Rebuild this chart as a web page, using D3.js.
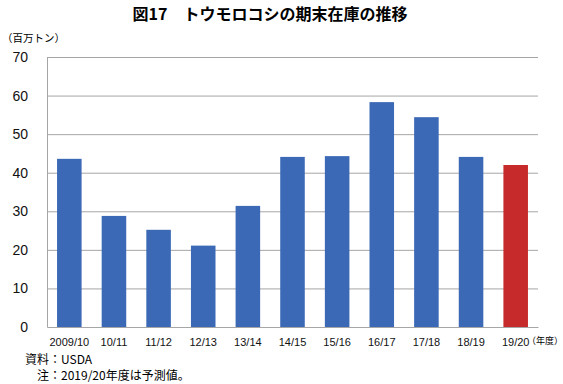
<!DOCTYPE html>
<html>
<head>
<meta charset="utf-8">
<script src="https://cdn.jsdelivr.net/npm/d3@7"></script>
<style>
body { margin: 0; background: #fff; }
text { font-family: "Noto Sans CJK JP", "Noto Sans", sans-serif; }
</style>
</head>
<body>
<div id="chart"></div>
<script>
// data
const years = ["2009/10","10/11","11/12","12/13","13/14","14/15","15/16","16/17","17/18","18/19","19/20"];
const stocks = [43.6, 28.8, 25.2, 21.1, 31.4, 44.1, 44.3, 58.3, 54.4, 44.1, 42.0];
const forecast = ["19/20"];
const yTicks = [0,10,20,30,40,50,60,70];

const W = 563, H = 384;
const margin = { top: 57, right: 25, bottom: 57, left: 47 };
const width = W - margin.left - margin.right;
const height = H - margin.top - margin.bottom;

const svg = d3.select("#chart").append("svg")
  .attr("width", W).attr("height", H);

// title
svg.append("text")
  .attr("x", 270).attr("y", 20)
  .attr("text-anchor", "middle")
  .style("font-size", "16px").style("font-weight", "bold")
  .text("図17　トウモロコシの期末在庫の推移");

svg.append("text")
  .attr("x", 2).attr("y", 42)
  .style("font-size", "10.5px")
  .text("（百万トン）");

const g = svg.append("g")
  .attr("transform", "translate(" + margin.left + "," + margin.top + ")");

const x = d3.scaleBand().domain(years).range([0, width])
  .paddingInner(0.45).paddingOuter(0.225);
const y = d3.scaleLinear().domain([0, 70]).range([height, 0]);

// gridlines
g.selectAll(".grid")
  .data(yTicks.filter(d => d > 0))
  .enter().append("line")
  .attr("x1", 0).attr("x2", width)
  .attr("y1", d => y(d) + 0.5).attr("y2", d => y(d) + 0.5)
  .attr("stroke", "#a6a6a6").attr("stroke-width", 1);

// bars
g.selectAll(".bar")
  .data(years)
  .enter().append("rect")
  .attr("x", d => x(d))
  .attr("width", x.bandwidth())
  .attr("y", (d, i) => y(stocks[i]))
  .attr("height", (d, i) => height - y(stocks[i]))
  .attr("fill", d => forecast.includes(d) ? "#c62a2b" : "#3c69b6");

// axes
const yAxis = d3.axisLeft(y).tickValues(yTicks).tickSize(0).tickPadding(19);
const ya = g.append("g").call(yAxis);
ya.select(".domain").attr("stroke", "#a6a6a6");
ya.selectAll("text").style("font-size", "14px").style("font-family", "Liberation Sans, Arial, sans-serif").attr("fill", "#111");

const xAxis = d3.axisBottom(x).tickSize(0).tickPadding(11);
const xa = g.append("g").attr("transform", "translate(0," + height + ")").call(xAxis);
xa.select(".domain").attr("stroke", "#a6a6a6");
xa.selectAll("text").style("font-size", "11px").style("font-family", "Liberation Sans, Arial, sans-serif").attr("fill", "#111");

svg.append("text")
  .attr("x", 527).attr("y", 344)
  .style("font-size", "9px")
  .text("（年度）");

svg.append("text")
  .attr("x", 25).attr("y", 364)
  .style("font-size", "12px")
  .text("資料：USDA");

svg.append("text")
  .attr("x", 37).attr("y", 380)
  .style("font-size", "12px")
  .text("注：2019/20年度は予測値。");
</script>
</body>
</html>
